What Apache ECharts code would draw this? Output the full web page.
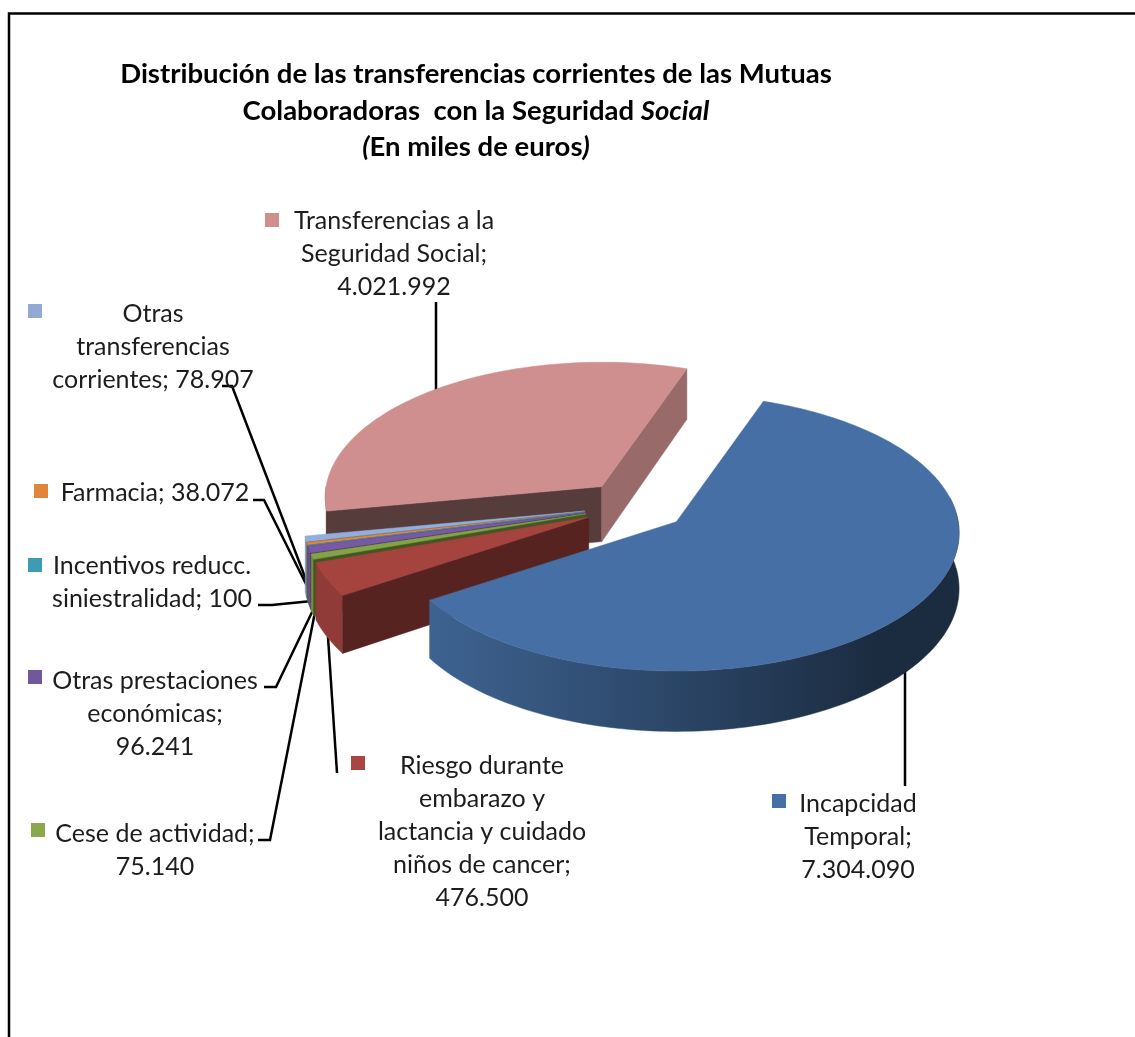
<!DOCTYPE html>
<html>
<head>
<meta charset="utf-8">
<title>Transferencias corrientes de las Mutuas</title>
<script src="https://cdn.jsdelivr.net/npm/echarts@6/dist/echarts.min.js"></script>
<style>
  html, body { margin: 0; padding: 0; background: #fff; }
  #chart { width: 1135px; height: 1037px; }
</style>
</head>
<body>
<div id="chart"></div>
<script>
// data, clockwise from the first slice
var categories = [
  'Incapcidad\nTemporal;',
  'Riesgo durante\nembarazo y\nlactancia y cuidado\nniños de cancer;',
  'Cese de actividad;',
  'Otras prestaciones\neconómicas;',
  'Incentivos reducc.\nsiniestralidad;',
  'Farmacia;',
  'Otras\ntransferencias\ncorrientes;',
  'Transferencias a la\nSeguridad Social;'
];
var values = [7304090, 476500, 75140, 96241, 100, 38072, 78907, 4021992];
// the value goes on its own line only for these
var valueOnNewLine = [true, true, true, true, false, false, false, true];
var sliceColors = ['#4670a5', '#a5443f', '#84a444', '#7859a3', '#3f9bb4', '#e0883a', '#94aedb', '#ce8f8e'];
var legendColors = ['#4670a5', '#a94642', '#8ba94c', '#71589a', '#3f9bb4', '#e0853a', '#93a9d3', '#ce8f8e'];
var drawOrder = [7, 6, 5, 4, 3, 2, 1, 0];

// 3d pie projection
var center = [635.5, 506];
var radius = 279, radiusY = 136, perspective = 0.08, explode = 52, depth = 55;
var sliceDepthScale = 0.016;
var firstAngle = 19.4;

// label layout: [text center x, first line y, square x, square y]
var labelPos = [
  [858, 804, 779, 801],
  [482, 766, 358, 763],
  [155, 834, 38, 830],
  [155, 681, 35, 677],
  [152, 566, 35, 565],
  [155, 493, 41, 491],
  [153, 314, 35, 311],
  [394, 221, 272, 220]
];
var leaders = [
  [[905, 786], [905, 665]],
  [[337, 773], [328, 637]],
  [[258, 840], [270, 840], [315, 612]],
  [[264, 687], [276, 687], [314, 608]],
  [[258, 605], [272, 605], [312, 601]],
  [[253, 500], [264, 500], [313, 598]],
  [[222, 386], [232, 386], [313, 598]],
  [[436, 302], [436, 395]]
];

var total = 0, i;
for (i = 0; i < values.length; i++) total += values[i];
var startAngles = [], endAngles = [], acc = firstAngle;
for (i = 0; i < values.length; i++) {
  startAngles.push(acc);
  acc += values[i] / total * 360;
  endAngles.push(acc);
}

function rad(d) { return d * Math.PI / 180; }

function fmt(n) {
  return String(n).replace(/\B(?=(\d{3})+$)/g, '.');
}

function shade(hex, f) {
  var r = parseInt(hex.substr(1, 2), 16), g = parseInt(hex.substr(3, 2), 16), b = parseInt(hex.substr(5, 2), 16);
  return 'rgb(' + Math.round(r * f) + ',' + Math.round(g * f) + ',' + Math.round(b * f) + ')';
}

function apexOf(idx) {
  var m = rad((startAngles[idx] + endAngles[idx]) / 2);
  return {
    x: center[0] + explode * Math.sin(m),
    y: center[1] - explode * 0.49 * Math.cos(m),
    scale: 1 / (1 + sliceDepthScale * Math.cos(m))
  };
}

function rim(apex, deg, down) {
  var t = rad(deg);
  var s = apex.scale / (1 + perspective * Math.cos(t));
  return [apex.x + s * radius * Math.sin(t), apex.y - s * radiusY * Math.cos(t) + (down ? depth * s : 0)];
}

function arcPoints(apex, from, to, down) {
  var pts = [], n = Math.max(2, Math.ceil(Math.abs(to - from) / 1.5)), j;
  for (j = 0; j <= n; j++) pts.push(rim(apex, from + (to - from) * j / n, down));
  return pts;
}

function poly(points, fill) {
  return { type: 'polygon', silent: true, shape: { points: points }, style: { fill: fill, stroke: fill, lineWidth: 0.5 } };
}

function renderSlice(params, api) {
  var idx = api.value(1);
  var a = startAngles[idx], b = endAngles[idx], color = sliceColors[idx];
  var apex = apexOf(idx), top = [apex.x, apex.y], low = [apex.x, apex.y + depth];
  var big = b - a > 90;
  var children = [];

  // rim wall, only the part facing us
  var w0 = Math.max(a, 80), w1 = Math.min(b, 270);
  if (w1 > w0) {
    var fill = shade(color, 0.87);
    if (big) {
      fill = {
        type: 'linear', x: 0, y: 0, x2: 1, y2: 0,
        colorStops: [
          { offset: 0, color: shade(color, 0.88) },
          { offset: 0.47, color: shade(color, 0.62) },
          { offset: 0.85, color: shade(color, 0.39) },
          { offset: 1, color: shade(color, 0.39) }
        ]
      };
    }
    children.push(poly(arcPoints(apex, w0, w1, false).concat(arcPoints(apex, w1, w0, true)), fill));
  }
  // cut faces
  if (Math.cos(rad(a - 90)) < 0) {
    children.push(poly([top, rim(apex, a, false), rim(apex, a, true), low], shade(color, big ? 0.42 : 0.52)));
  }
  if (Math.cos(rad(b + 90)) < 0) {
    children.push(poly([top, rim(apex, b, false), rim(apex, b, true), low], shade(color, 0.74)));
  }
  // top face
  children.push(poly([top].concat(arcPoints(apex, a, b, false)), color));
  return { type: 'group', children: children };
}

function renderLeader(params, api) {
  return {
    type: 'polyline',
    silent: true,
    shape: { points: leaders[api.value(0)] },
    style: { stroke: '#000', lineWidth: 2.5, fill: 'none' }
  };
}

function renderLabel(params, api) {
  var idx = api.value(0), p = labelPos[idx];
  var text = categories[idx] + (valueOnNewLine[idx] ? '\n' : ' ') + fmt(values[idx]);
  return {
    type: 'group',
    children: [
      {
        type: 'rect', silent: true,
        shape: { x: p[2] - 7, y: p[3] - 7, width: 14, height: 14 },
        style: { fill: legendColors[idx] }
      },
      {
        type: 'text', silent: true,
        x: p[0], y: p[1] - 16.5,
        style: {
          text: text, fill: '#1c1c1c', align: 'center', verticalAlign: 'top',
          font: '25px Lato', lineHeight: 33
        }
      }
    ]
  };
}

function idxData() {
  var d = [];
  for (var j = 0; j < values.length; j++) d.push([j]);
  return d;
}

var chart = echarts.init(document.getElementById('chart'));
chart.setOption({
  animation: false,
  backgroundColor: '#fff',
  title: {
    left: 471,
    top: 51,
    textAlign: 'center',
    text: '{b|Distribución de las transferencias corrientes de las Mutuas}\n' +
      '{b|Colaboradoras  con la Seguridad }{i|Social}\n' +
      '{i|(}{b|En miles de euros}{i|)}',
    textStyle: {
      rich: {
        b: { fontFamily: 'Lato', fontWeight: 'bold', fontSize: 27.5, lineHeight: 36.5, color: '#000' },
        i: { fontFamily: 'Lato', fontWeight: 'bold', fontStyle: 'italic', fontSize: 27.5, lineHeight: 36.5, color: '#000' }
      }
    }
  },
  graphic: [{
    type: 'polyline',
    silent: true,
    shape: { points: [[9, 1037], [9, 13.5], [1135, 13.5]] },
    style: { stroke: '#000', lineWidth: 2.5, fill: 'none' }
  }],
  series: [
    { type: 'custom', coordinateSystem: 'none', z: 1, renderItem: renderLeader, data: idxData() },
    {
      type: 'custom', coordinateSystem: 'none', z: 2, renderItem: renderSlice,
      data: drawOrder.map(function (k) { return [values[k], k]; })
    },
    { type: 'custom', coordinateSystem: 'none', z: 3, renderItem: renderLabel, data: idxData() }
  ]
});
</script>
</body>
</html>
